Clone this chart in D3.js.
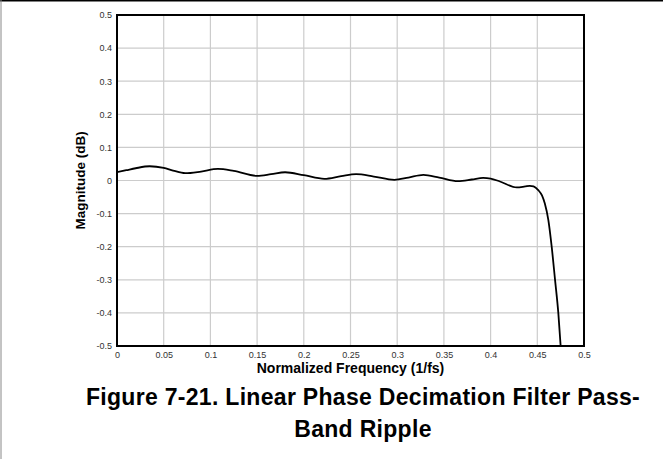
<!DOCTYPE html>
<html>
<head>
<meta charset="utf-8">
<script src="https://cdn.jsdelivr.net/npm/d3@7"></script>
<style>
  html, body { margin: 0; padding: 0; background: #fff; }
  svg { display: block; font-family: "Liberation Sans", Arial, sans-serif; }
</style>
</head>
<body>
<svg id="chart"></svg>
<script>
// Pass-band ripple of the linear phase decimation filter
const FREQ = [0, 0.01, 0.02, 0.035, 0.05, 0.06, 0.073, 0.09, 0.108, 0.125,
  0.15, 0.165, 0.18, 0.2, 0.222, 0.24, 0.256, 0.275, 0.297, 0.312,
  0.328, 0.345, 0.365, 0.38, 0.392, 0.4, 0.41, 0.428, 0.437, 0.442,
  0.446, 0.451, 0.455, 0.458, 0.4618, 0.4654, 0.469, 0.4725, 0.475];
const MAG_DB = [0.025, 0.031, 0.037, 0.043, 0.038, 0.03, 0.022, 0.027, 0.035, 0.029,
  0.014, 0.019, 0.025, 0.016, 0.005, 0.013, 0.019, 0.012, 0.002, 0.009,
  0.017, 0.009, -0.002, 0.003, 0.008, 0.006, -0.003, -0.021, -0.018, -0.016,
  -0.018, -0.029, -0.045, -0.069, -0.119, -0.2, -0.3, -0.4, -0.5];

const X_TICKS = [0, 0.05, 0.1, 0.15, 0.2, 0.25, 0.3, 0.35, 0.4, 0.45, 0.5];
const Y_TICKS = [-0.5, -0.4, -0.3, -0.2, -0.1, 0, 0.1, 0.2, 0.3, 0.4, 0.5];

const width = 663;
const height = 459;
const plot = { left: 117, top: 15, right: 584, bottom: 346 };

const svg = d3.select("#chart")
  .attr("width", width)
  .attr("height", height);

// page frame: black rule on top, grey rule on the left
svg.append("line")
  .attr("x1", 0).attr("x2", width).attr("y1", 0.75).attr("y2", 0.75)
  .attr("stroke", "#000").attr("stroke-width", 1.5);
svg.append("line")
  .attr("x1", 1).attr("x2", 1).attr("y1", 0).attr("y2", height)
  .attr("stroke", "#888").attr("stroke-width", 1);

const x = d3.scaleLinear().domain([0, 0.5]).range([plot.left, plot.right]);
const y = d3.scaleLinear().domain([-0.5, 0.5]).range([plot.bottom, plot.top]);

// grid
const grid = svg.append("g").attr("stroke", "#cccccc").attr("stroke-width", 1.2);
grid.selectAll("line.vx")
  .data(X_TICKS.slice(1, -1))
  .join("line")
  .attr("class", "vx")
  .attr("x1", d => x(d)).attr("x2", d => x(d))
  .attr("y1", plot.top).attr("y2", plot.bottom);
grid.selectAll("line.hy")
  .data(Y_TICKS.slice(1, -1))
  .join("line")
  .attr("class", "hy")
  .attr("x1", plot.left).attr("x2", plot.right)
  .attr("y1", d => y(d)).attr("y2", d => y(d));

// curve, clipped to the plot box
svg.append("clipPath").attr("id", "clip")
  .append("rect")
  .attr("x", plot.left).attr("y", plot.top)
  .attr("width", plot.right - plot.left).attr("height", plot.bottom - plot.top);

const line = d3.line()
  .x(d => x(d[0]))
  .y(d => y(d[1]))
  .curve(d3.curveMonotoneX);

svg.append("path")
  .datum(FREQ.map((f, i) => [f, MAG_DB[i]]))
  .attr("clip-path", "url(#clip)")
  .attr("d", line)
  .attr("fill", "none")
  .attr("stroke", "#000")
  .attr("stroke-width", 1.8);

// plot frame
svg.append("rect")
  .attr("x", plot.left).attr("y", plot.top)
  .attr("width", plot.right - plot.left).attr("height", plot.bottom - plot.top)
  .attr("fill", "none").attr("stroke", "#000").attr("stroke-width", 2);

// axes (labels only, no tick marks)
const fmt = d => d === 0 ? "0" : String(+d.toFixed(2));

const xAxis = svg.append("g")
  .attr("transform", `translate(0,${plot.bottom})`)
  .call(d3.axisBottom(x).tickValues(X_TICKS).tickFormat(fmt).tickSize(0).tickPadding(6));
const yAxis = svg.append("g")
  .attr("transform", `translate(${plot.left},0)`)
  .call(d3.axisLeft(y).tickValues(Y_TICKS).tickFormat(fmt).tickSize(0).tickPadding(5));

[xAxis, yAxis].forEach(g => {
  g.select(".domain").remove();
  g.selectAll("text")
    .attr("fill", "#333")
    .style("font-size", "9px")
    .style("font-family", "'Liberation Sans', Arial, sans-serif");
});

// axis titles
svg.append("text")
  .attr("x", (plot.left + plot.right) / 2).attr("y", 373)
  .attr("text-anchor", "middle")
  .attr("font-weight", "bold").attr("font-size", 14)
  .text("Normalized Frequency (1/fs)");

svg.append("text")
  .attr("transform", `translate(85,${(plot.top + plot.bottom) / 2}) rotate(-90)`)
  .attr("text-anchor", "middle")
  .attr("font-weight", "bold").attr("font-size", 13.5)
  .text("Magnitude (dB)");

// figure caption
const caption = svg.append("text")
  .attr("text-anchor", "middle")
  .attr("font-weight", "bold").attr("font-size", 23)
  .attr("letter-spacing", 0.3)
  .attr("fill", "#000");
caption.append("tspan").attr("x", 363).attr("y", 405)
  .text("Figure 7-21. Linear Phase Decimation Filter Pass-");
caption.append("tspan").attr("x", 363).attr("y", 437)
  .text("Band Ripple");
</script>
</body>
</html>
